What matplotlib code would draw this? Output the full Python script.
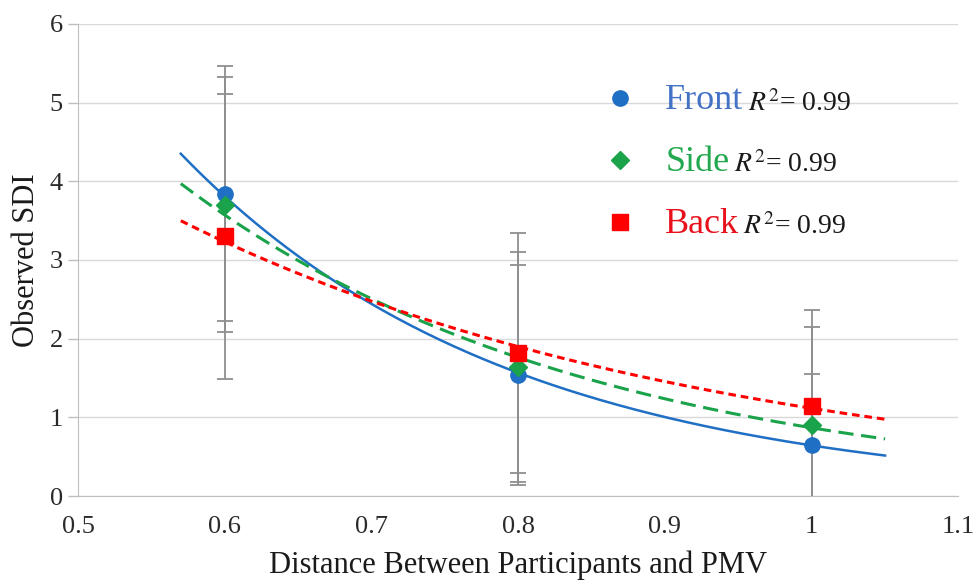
import numpy as np
import matplotlib
matplotlib.use("Agg")
import matplotlib.pyplot as plt

plt.rcParams["font.family"] = ["Liberation Serif", "DejaVu Serif"]
plt.rcParams["mathtext.fontset"] = "stix"

# data
distance = [0.6, 0.8, 1.0]
front = [3.84, 1.54, 0.65]
side = [3.70, 1.64, 0.90]
back = [3.30, 1.82, 1.14]
front_err = [1.62, 1.40, 0.90]
side_err = [1.62, 1.46, 1.25]
back_err = [1.81, 1.52, 1.22]
r2 = [0.99, 0.99, 0.99]
names = ["Front", "Side", "Back"]
fit_range = (0.57, 1.05)

COLORS = ["#1f6fc5", "#1aa34a", "#ff0000"]
TEXT_COLORS = ["#4472c4", "#22a84f", "#e8101a"]
MARKERS = ["o", "D", "s"]
MSIZE = [11, 9, 11]
LINESTYLES = ["-", (0, (5, 2.5)), (0, (2.5, 1.6))]

fig = plt.figure(figsize=(9.76, 5.81), dpi=100)
ax = fig.add_axes([0.080, 0.146, 0.902, 0.813])

series = [front, side, back]
errs = [front_err, side_err, back_err]
xs = np.linspace(fit_range[0], fit_range[1], 200)

for y, e in zip(series, errs):
    ax.errorbar(distance, y, yerr=e, fmt="none", ecolor="#8f8f8f",
                elinewidth=1.3, capsize=6, capthick=1.3, zorder=2)

for y, c, ls in zip(series, COLORS, LINESTYLES):
    # exponential trendline fitted to the points
    b, lna = np.polyfit(distance, np.log(y), 1)
    ax.plot(xs, np.exp(lna) * np.exp(b * xs), color=c, linestyle=ls,
            linewidth=2.2 if ls != "-" else 1.8, zorder=3)

for y, c, m, ms in zip(series, COLORS, MARKERS, MSIZE):
    ax.plot(distance, y, linestyle="none", marker=m, markersize=ms,
            color=c, markeredgecolor=c, zorder=4)

ax.set_xlim(0.5, 1.1)
ax.set_ylim(0, 6)
ax.set_xticks([0.5, 0.6, 0.7, 0.8, 0.9, 1.0, 1.1])
ax.set_xticklabels(["0.5", "0.6", "0.7", "0.8", "0.9", "1", "1.1"])
ax.set_yticks(range(0, 7))
ax.yaxis.grid(True, color="#d9d9d9", linewidth=1.0)
ax.set_axisbelow(True)
for s in ["top", "right"]:
    ax.spines[s].set_visible(False)
ax.spines["left"].set_color("#bfbfbf")
ax.spines["bottom"].set_color("#bfbfbf")
ax.tick_params(axis="both", labelsize=19, colors="#bfbfbf", labelcolor="#2a2a2a",
               length=7, width=1)
ax.tick_params(axis="y", pad=4)
ax.tick_params(axis="x", length=0, pad=14)
ax.set_xlabel("Distance Between Participants and PMV", fontsize=22, color="#1a1a1a",
              labelpad=9)
ax.set_ylabel("Observed SDI", fontsize=22, color="#1a1a1a", labelpad=6)

# legend block
ys = [0.843, 0.712, 0.581]
for name, r, c, tc, m, ms, yy in zip(names, r2, COLORS, TEXT_COLORS, MARKERS, MSIZE, ys):
    ax.plot([0.616], [yy], transform=ax.transAxes, marker=m, markersize=ms,
            color=c, linestyle="none", clip_on=False)
    t = ax.text(0.667, yy - 0.005, name, transform=ax.transAxes, fontsize=26,
                color=tc, va="center", ha="left")
    ax.annotate(r"$R^2$= " + f"{r:.2f}", xy=(1, 0.5), xycoords=t,
                xytext=(3, -2), textcoords="offset points", fontsize=20,
                color="#1a1a1a", va="center", ha="left")

fig.savefig("out.png", dpi=100)
